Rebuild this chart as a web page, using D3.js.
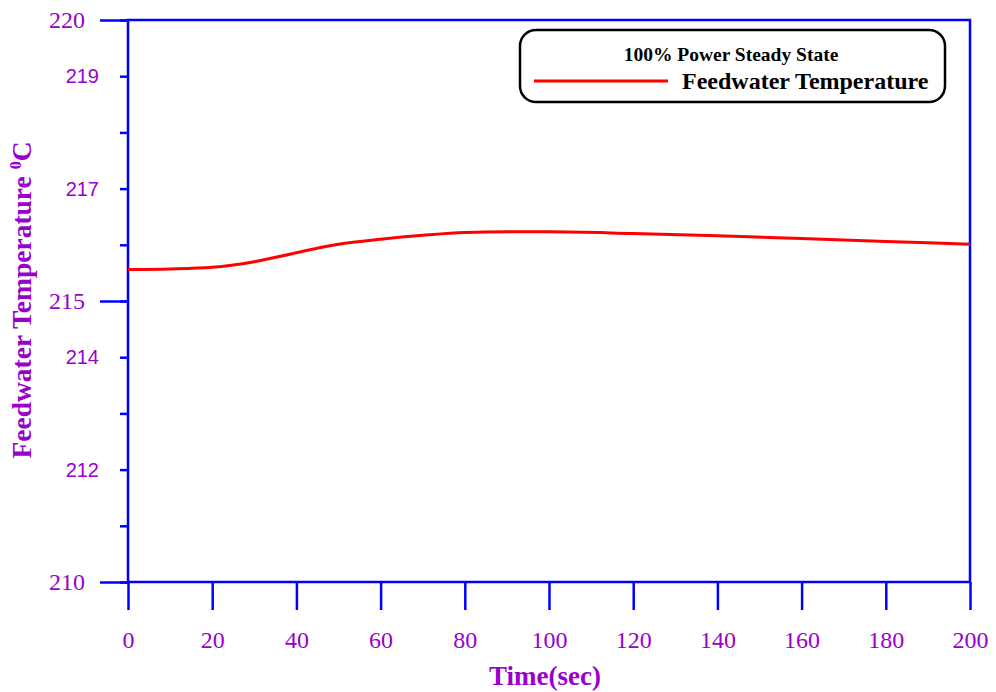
<!DOCTYPE html>
<html lang="en">
<head>
  <meta charset="utf-8">
  <title>Feedwater Temperature</title>
  <script src="https://d3js.org/d3.v7.min.js"></script>
  <style>
    body { margin: 0; background: #fff; }
  </style>
</head>
<body>
<script>
// data
var timeSec = [0, 10, 20, 30, 40, 50, 60, 70, 80, 90, 100, 120, 140, 160, 180, 200];
var feedTemp = [215.56, 215.57, 215.60, 215.70, 215.86, 216.01, 216.10, 216.17, 216.22, 216.23, 216.23, 216.20, 216.16, 216.11, 216.06, 216.01];
var xTicks = [0, 20, 40, 60, 80, 100, 120, 140, 160, 180, 200];
var yMajor = [210, 215, 220];
var yMinorLabels = [212, 214, 217, 219];
var yAllTicks = d3.range(210, 221);

var W = 996, H = 692;
var m = {left: 128, top: 20, right: 26, bottom: 110};
var purple = "#9900cc", blue = "#0000ff";
var serif = "'Liberation Serif', 'Times New Roman', serif";

var svg = d3.select("body").append("svg")
  .attr("width", W).attr("height", H);

var x = d3.scaleLinear().domain([0, 200]).range([m.left, W - m.right]);
var y = d3.scaleLinear().domain([210, 220]).range([H - m.bottom, m.top]);

// frame
svg.append("rect")
  .attr("x", x(0)).attr("y", y(220))
  .attr("width", x(200) - x(0)).attr("height", y(210) - y(220))
  .attr("fill", "none").attr("stroke", blue).attr("stroke-width", 2.5);

// x axis
var gx = svg.append("g")
  .attr("transform", "translate(0," + y(210) + ")")
  .call(d3.axisBottom(x).tickValues(xTicks).tickSize(28).tickPadding(0));
gx.select(".domain").remove();
gx.selectAll("line").attr("stroke", blue).attr("stroke-width", 2.5);
gx.selectAll("text")
  .attr("y", 49)
  .attr("fill", purple)
  .style("font-family", serif)
  .style("font-size", "24px");

// y axis minor ticks
var gyMinor = svg.append("g")
  .attr("transform", "translate(" + x(0) + ",0)")
  .call(d3.axisLeft(y).tickValues(yAllTicks).tickSize(8).tickPadding(21)
    .tickFormat(function(d) { return yMinorLabels.indexOf(d) >= 0 ? d : ""; }));
gyMinor.select(".domain").remove();
gyMinor.selectAll("line").attr("stroke", blue).attr("stroke-width", 2.5);
gyMinor.selectAll("text")
  .attr("fill", purple)
  .style("font-family", "'Liberation Sans', Arial, sans-serif")
  .style("font-size", "20px");

// y axis major ticks
var gyMajor = svg.append("g")
  .attr("transform", "translate(" + x(0) + ",0)")
  .call(d3.axisLeft(y).tickValues(yMajor).tickSize(28).tickPadding(15));
gyMajor.select(".domain").remove();
gyMajor.selectAll("line").attr("stroke", blue).attr("stroke-width", 2.5);
gyMajor.selectAll("text")
  .attr("fill", purple)
  .style("font-family", serif)
  .style("font-size", "24px");

// line
var line = d3.line()
  .x(function(d, i) { return x(timeSec[i]); })
  .y(function(d) { return y(d); })
  .curve(d3.curveMonotoneX);

svg.append("path")
  .datum(feedTemp)
  .attr("d", line)
  .attr("fill", "none")
  .attr("stroke", "#ff0000")
  .attr("stroke-width", 3);

// axis titles
svg.append("text")
  .attr("x", 545)
  .attr("y", 685)
  .attr("text-anchor", "middle")
  .attr("fill", purple)
  .style("font-family", serif)
  .style("font-weight", "bold")
  .style("font-size", "27px")
  .text("Time(sec)");

var yl = svg.append("text")
  .attr("transform", "translate(31,300) rotate(-90)")
  .attr("text-anchor", "middle")
  .attr("fill", purple)
  .style("font-family", serif)
  .style("font-weight", "bold")
  .style("font-size", "27.5px");
yl.append("tspan").text("Feedwater Temperature ");
yl.append("tspan").attr("dy", -10).style("font-size", "16px").text("0");
yl.append("tspan").attr("dy", 10).text("C");

// legend
var lg = svg.append("g");
lg.append("rect")
  .attr("x", 520).attr("y", 30).attr("width", 425).attr("height", 72)
  .attr("rx", 16).attr("ry", 16)
  .attr("fill", "#fff").attr("stroke", "#000").attr("stroke-width", 2.5);
lg.append("text")
  .attr("x", 731).attr("y", 61)
  .attr("text-anchor", "middle")
  .style("font-family", serif)
  .style("font-weight", "bold")
  .style("font-size", "19.5px")
  .text("100% Power Steady State");
lg.append("line")
  .attr("x1", 534).attr("x2", 668).attr("y1", 81).attr("y2", 81)
  .attr("stroke", "#ff0000").attr("stroke-width", 3);
lg.append("text")
  .attr("x", 682).attr("y", 89)
  .style("font-family", serif)
  .style("font-weight", "bold")
  .style("font-size", "24px")
  .text("Feedwater Temperature");
</script>
</body>
</html>
